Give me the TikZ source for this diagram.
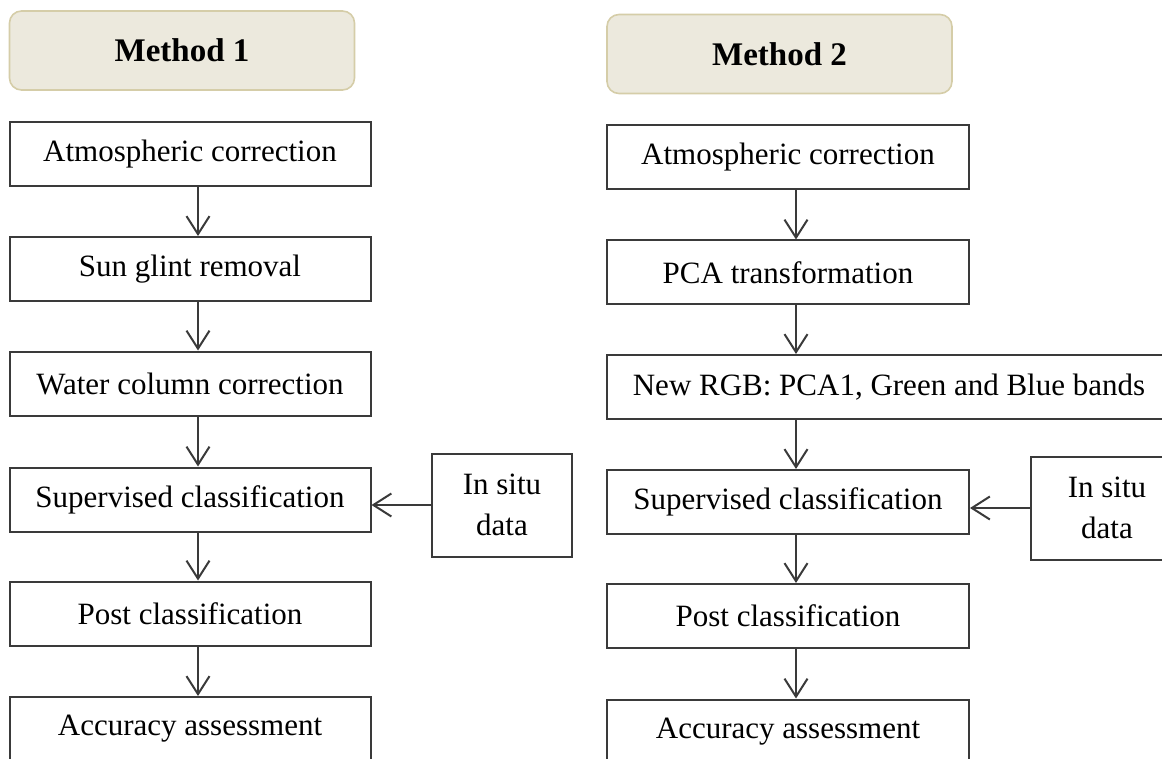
\documentclass[tikz,border=0pt]{standalone}
\usepackage{fontspec}
\setmainfont{Liberation Serif}
\usetikzlibrary{arrows.meta}
\definecolor{headerfill}{HTML}{ECE9DD}
\definecolor{headerline}{HTML}{D5CDA8}
\definecolor{boxline}{HTML}{3A3A3A}
\begin{document}
\begin{tikzpicture}[x=0.5pt,y=-0.5pt,
  stepbox/.style={draw=boxline, line width=1pt, fill=white, minimum width=180.5pt, minimum height=32pt, inner sep=0pt, font=\fontsize{15.5}{20.5}\selectfont, align=center},
  header/.style={draw=headerline, fill=headerfill, rounded corners=6pt, line width=0.8pt, minimum width=172.5pt, minimum height=39.5pt, inner sep=0pt, font=\fontsize{16.5}{20}\selectfont\bfseries},
  datbox/.style={stepbox, minimum width=70pt, minimum height=51.5pt},
  flow/.style={draw=boxline, line width=1pt, -{Straight Barb[length=9pt,width=11.5pt,line width=1pt]}}
]
\useasboundingbox (0,0) rectangle (1162,759);
\clip (0,0) rectangle (1162,759);

% headers
\node[header] (m1) at (182,50.5) {Method 1};
\node[header] (m2) at (779.5,54) {Method 2};

% method 1
\node[stepbox] (a1) at (190,154) {Atmospheric correction};
\node[stepbox] (s1) at (190,269) {Sun glint removal};
\node[stepbox] (w1) at (190,383.5) {Water column correction};
\node[stepbox] (c1) at (190,499.5) {Supervised classification};
\node[stepbox] (p1) at (190,613.5) {Post classification};
\node[stepbox] (q1) at (190,729) {Accuracy assessment};
\node[datbox] (i1) at (502,505) {In situ\\data};

% method 2
\node[stepbox, minimum width=181pt] (a2) at (788,157) {Atmospheric correction};
\node[stepbox, minimum width=181pt] (t2) at (788,272.5) {PCA transformation};
\node[stepbox, minimum width=282pt] (n2) at (889,387) {New RGB: PCA1, Green and Blue bands};
\node[stepbox, minimum width=181pt] (c2) at (788,502) {Supervised classification};
\node[stepbox, minimum width=181pt] (p2) at (788,616) {Post classification};
\node[stepbox, minimum width=181pt] (q2) at (788,731.5) {Accuracy assessment};
\node[datbox, minimum width=76pt] (i2) at (1107,508) {In situ\\data};

\coordinate (ax1) at (198,0);
\coordinate (ax2) at (796,0);

\draw[flow] (a1.south -| ax1) -- (s1.north -| ax1);
\draw[flow] (s1.south -| ax1) -- (w1.north -| ax1);
\draw[flow] (w1.south -| ax1) -- (c1.north -| ax1);
\draw[flow] (c1.south -| ax1) -- (p1.north -| ax1);
\draw[flow] (p1.south -| ax1) -- (q1.north -| ax1);
\draw[flow] (i1.west) -- (c1.east |- i1.west);

\draw[flow] (a2.south -| ax2) -- (t2.north -| ax2);
\draw[flow] (t2.south -| ax2) -- (n2.north -| ax2);
\draw[flow] (n2.south -| ax2) -- (c2.north -| ax2);
\draw[flow] (c2.south -| ax2) -- (p2.north -| ax2);
\draw[flow] (p2.south -| ax2) -- (q2.north -| ax2);
\draw[flow] (i2.west) -- (c2.east |- i2.west);
\end{tikzpicture}
\end{document}
